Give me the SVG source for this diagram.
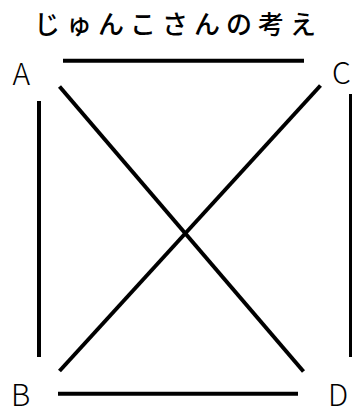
<svg xmlns="http://www.w3.org/2000/svg" width="352" height="407" viewBox="0 0 352 407">
<style>
.lbl{font-family:"Noto Sans CJK JP","Liberation Sans",sans-serif;font-size:30px;font-weight:300;fill:#000}
.ttl{font-family:"Noto Sans CJK JP",sans-serif;font-size:26px;font-weight:500;letter-spacing:6px;fill:#000}
.edge{stroke:#000;stroke-width:4;fill:none}
</style>
<rect width="352" height="407" fill="#fff"/>
<text class="ttl" x="34" y="34">じゅんこさんの考え</text>
<g id="connectors">
<line class="edge" x1="63" y1="60.7" x2="304" y2="60.7"/>
<line class="edge" x1="58" y1="393.7" x2="298" y2="393.7"/>
<line class="edge" x1="39" y1="101" x2="39" y2="357"/>
<line class="edge" x1="351" y1="94" x2="351" y2="357"/>
<line class="edge" x1="59.5" y1="86.5" x2="303.5" y2="371.5"/>
<line class="edge" x1="59.5" y1="371" x2="320.5" y2="85.5"/>
</g>
<g id="A"><text class="lbl" x="12.5" y="85">A</text></g>
<g id="B"><text class="lbl" x="11" y="405.5">B</text></g>
<g id="C"><text class="lbl" x="332" y="83.5">C</text></g>
<g id="D"><text class="lbl" x="328" y="406">D</text></g>
</svg>
